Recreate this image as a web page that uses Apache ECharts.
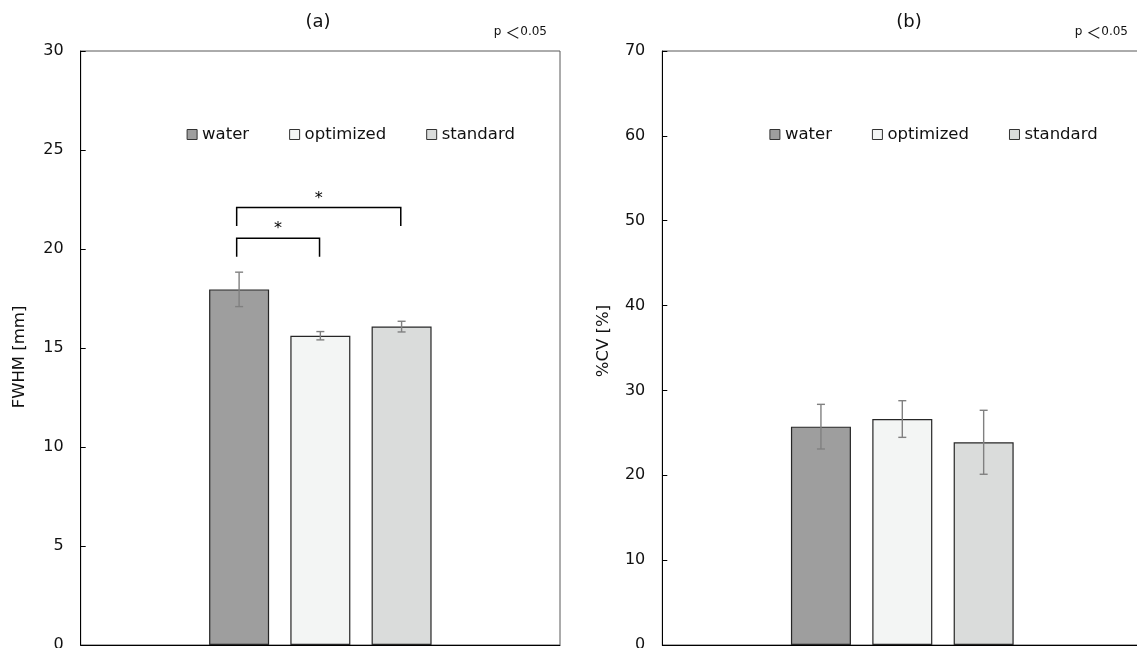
<!DOCTYPE html>
<html>
<head>
<meta charset="utf-8">
<script src="https://cdn.jsdelivr.net/npm/echarts@6/dist/echarts.min.js"></script>
<style>
html,body{margin:0;padding:0;background:#fff;overflow:hidden;}
#chart{width:1137px;height:648px;}
</style>
</head>
<body>
<div id="chart"></div>
<script>
// ---- data ----
const categories = ['water', 'optimized', 'standard'];
const fwhmMean = [17.96, 15.62, 16.08];
const fwhmErr = [0.87, 0.21, 0.27];
const cvMean = [25.73, 26.63, 23.89];
const cvErr = [2.63, 2.16, 3.77];
const fwhmAxisRange = [0, 30, 5];   // min, max, interval
const cvAxisRange = [0, 70, 10];
// significance brackets: [from category index, to category index, bracket height, leg end]
const sigBrackets = [[0, 1, 20.54, 19.61], [0, 2, 22.1, 21.16]];
const sigLabel = '*';
const panelTitles = ['(a)', '(b)'];
const pText = ['p ', '＜', '0.05'];
const yNames = ['FWHM [mm]', '%CV [%]'];

// ---- style ----
const FONT = 'DejaVu Sans';
const barColors = ['#9e9e9e', '#f3f5f4', '#dadcdb'];
const xPos = categories.map((_, i) => i + 1);

function barSeries(gi, means) {
  return categories.map((name, i) => ({
    type: 'bar', name: name, xAxisIndex: gi, yAxisIndex: gi,
    barWidth: 60, barGap: '-100%', silent: true,
    data: [[xPos[i], means[i]]],
    itemStyle: { color: barColors[i], borderColor: '#262626', borderWidth: 1.2 },
    z: 2
  }));
}

function errSeries(gi, means, errs) {
  return {
    type: 'custom', xAxisIndex: gi, yAxisIndex: gi, silent: true, z: 5,
    encode: { x: 0, y: [1, 2] },
    data: means.map((m, i) => [xPos[i], m - errs[i], m + errs[i]]),
    renderItem: function (params, api) {
      const lo = api.coord([api.value(0), api.value(1)]);
      const hi = api.coord([api.value(0), api.value(2)]);
      const w = 4;
      const st = { stroke: '#808080', lineWidth: 1.4 };
      return {
        type: 'group', children: [
          { type: 'line', shape: { x1: lo[0], y1: lo[1], x2: hi[0], y2: hi[1] }, style: st },
          { type: 'line', shape: { x1: hi[0] - w, y1: hi[1], x2: hi[0] + w, y2: hi[1] }, style: st },
          { type: 'line', shape: { x1: lo[0] - w, y1: lo[1], x2: lo[0] + w, y2: lo[1] }, style: st }
        ]
      };
    }
  };
}

const bracketSeries = {
  type: 'custom', xAxisIndex: 0, yAxisIndex: 0, silent: true, z: 6,
  encode: { x: [0, 1], y: [2, 3] },
  data: sigBrackets.map(b => [xPos[b[0]] - 0.03, xPos[b[1]] - 0.01, b[2], b[3]]),
  renderItem: function (params, api) {
    const a = api.coord([api.value(0), api.value(3)]);
    const b = api.coord([api.value(0), api.value(2)]);
    const c = api.coord([api.value(1), api.value(2)]);
    const d = api.coord([api.value(1), api.value(3)]);
    return {
      type: 'group', children: [
        { type: 'polyline', shape: { points: [a, b, c, d] }, style: { stroke: '#000', lineWidth: 1.5, fill: null } },
        { type: 'text', x: (b[0] + c[0]) / 2, y: b[1] - 1,
          style: { text: sigLabel, fontSize: 16, fontFamily: FONT, fill: '#000', align: 'center', verticalAlign: 'bottom' } }
      ]
    };
  }
};

function yAxis(gi, range) {
  return {
    type: 'value', gridIndex: gi, min: range[0], max: range[1], interval: range[2],
    axisLine: { show: true, onZero: false, lineStyle: { color: '#000', width: 1 } },
    axisTick: { show: true, inside: true, length: 5, lineStyle: { color: '#000' } },
    axisLabel: { fontSize: 16, fontFamily: FONT, color: '#111', margin: 17 },
    splitLine: { show: false }
  };
}
function xAxis(gi, min, max) {
  return {
    type: 'value', gridIndex: gi, min: min, max: max,
    axisLine: { show: true, onZero: false, lineStyle: { color: '#000', width: 1 } },
    axisTick: { show: false },
    axisLabel: { show: false }, splitLine: { show: false }
  };
}
function legend(left) {
  return {
    data: categories, left: left, top: 121, icon: 'rect', itemWidth: 10, itemHeight: 10,
    itemGap: 40, selectedMode: false,
    textStyle: { fontSize: 16.5, fontFamily: FONT, color: '#111' },
    itemStyle: { borderColor: '#333', borderWidth: 1 }
  };
}
function pLabel(x) {
  return {
    type: 'text', x: x, y: 32,
    style: {
      text: '{a|' + pText[0] + '}{b|' + pText[1] + '}{a|' + pText[2] + '}',
      align: 'right', verticalAlign: 'middle', fill: '#111',
      rich: {
        a: { fontSize: 12, fontFamily: FONT, fill: '#111', lineHeight: 18, verticalAlign: 'middle' },
        b: { fontSize: 15, fontFamily: 'Noto Sans CJK JP', fill: '#111', lineHeight: 18, verticalAlign: 'middle' }
      }
    }
  };
}
function titleText(x, t) {
  return { type: 'text', x: x, y: 22, style: { text: t, fontSize: 18, fontFamily: FONT, fill: '#111', align: 'center', verticalAlign: 'middle' } };
}
function nameText(x, y, t) {
  return { type: 'text', x: x, y: y, rotation: Math.PI / 2,
    style: { text: t, fontSize: 16.5, fontFamily: FONT, fill: '#111', align: 'center', verticalAlign: 'middle' } };
}

const chart = echarts.init(document.getElementById('chart'), null, { renderer: 'canvas' });
chart.setOption({
  animation: false,
  backgroundColor: '#fff',
  textStyle: { fontFamily: FONT },
  grid: [
    { left: 80.7, top: 51, width: 479.3, height: 594, show: true, borderColor: '#595959', borderWidth: 1, backgroundColor: 'transparent', outerBoundsMode: 'none', containLabel: false },
    { left: 662.3, top: 51, width: 480, height: 594, show: true, borderColor: '#595959', borderWidth: 1, backgroundColor: 'transparent', outerBoundsMode: 'none', containLabel: false }
  ],
  xAxis: [xAxis(0, -0.95, 4.95), xAxis(1, -0.95, 4.95)],
  yAxis: [yAxis(0, fwhmAxisRange), yAxis(1, cvAxisRange)],
  legend: [legend(181.6), legend(764.4)],
  graphic: [
    titleText(318, panelTitles[0]),
    titleText(909, panelTitles[1]),
    pLabel(547),
    pLabel(1128),
    nameText(20, 357, yNames[0]),
    nameText(604, 341, yNames[1])
  ],
  series: [].concat(
    barSeries(0, fwhmMean), [errSeries(0, fwhmMean, fwhmErr), bracketSeries],
    barSeries(1, cvMean), [errSeries(1, cvMean, cvErr)]
  )
});
</script>
</body>
</html>
